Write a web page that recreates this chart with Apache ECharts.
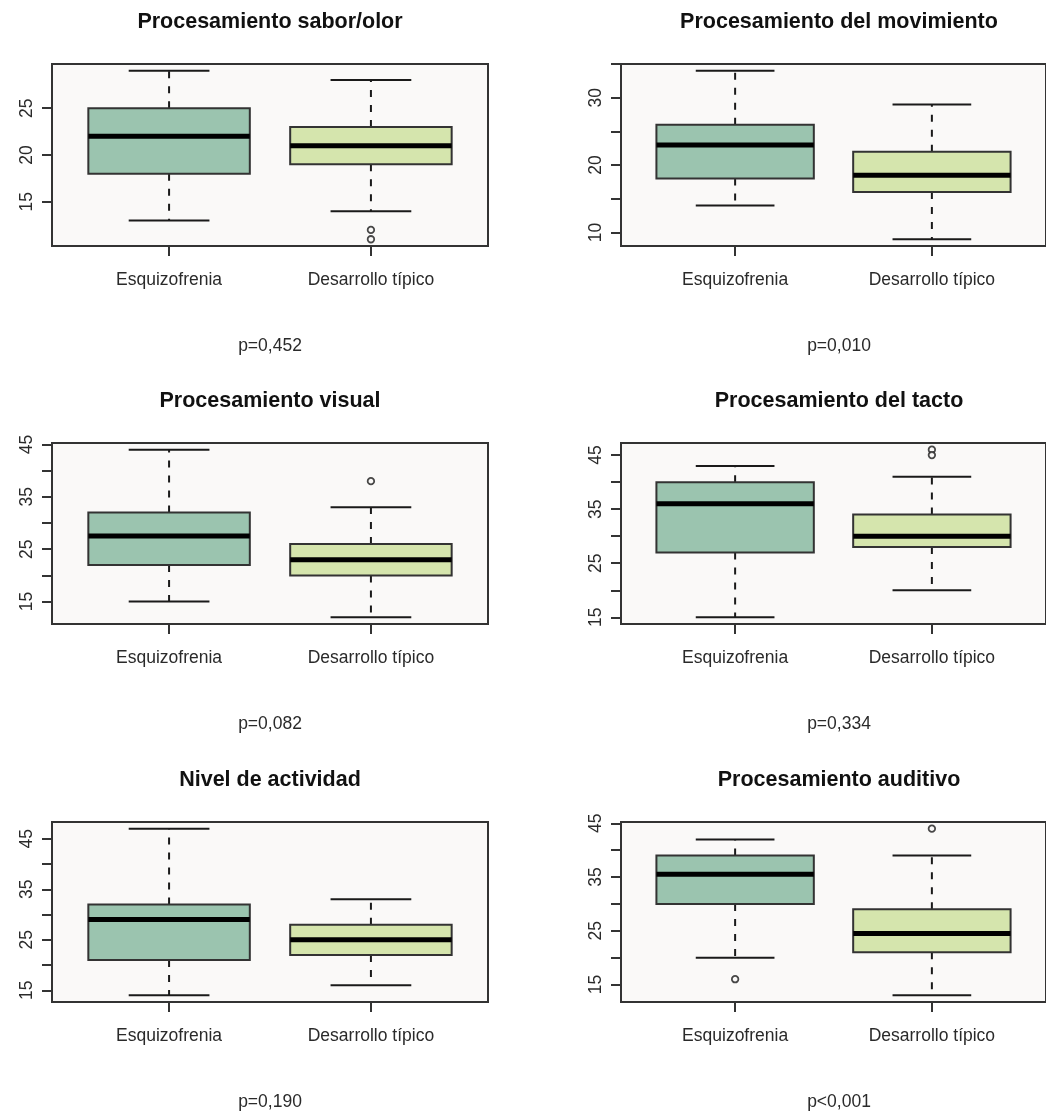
<!DOCTYPE html>
<html>
<head>
<meta charset="utf-8">
<script src="https://cdn.jsdelivr.net/npm/echarts@6/dist/echarts.min.js"></script>
<style>
html,body{margin:0;padding:0;background:#fff;}
#chart{width:1046px;height:1113px;}
</style>
</head>
<body>
<div id="chart"></div>
<script>
// ---- data ----
const groups = ['Esquizofrenia', 'Desarrollo típico'];
const titles = ['Procesamiento sabor/olor', 'Procesamiento del movimiento', 'Procesamiento visual',
                'Procesamiento del tacto', 'Nivel de actividad', 'Procesamiento auditivo'];
const pValues = ['p=0,452', 'p=0,010', 'p=0,082', 'p=0,334', 'p=0,190', 'p<0,001'];
// [lower whisker, Q1, median, Q3, upper whisker]
const esqStats = [[13,18,22,25,29],[14,18,23,26,34],[15,22,27.5,32,44],[15,27,36,40,43],[14,21,29,32,47],[20,30,35.5,39,42]];
const dtStats  = [[14,19,21,23,28],[9,16,18.5,22,29],[12,20,23,26,33],[20,28,30,34,41],[16,22,25,28,33],[13,21,24.5,29,39]];
const esqOutliers = [[],[],[],[],[],[16]];
const dtOutliers  = [[12,11],[],[38],[46,45],[],[44]];
const yTicks = [[15,20,25],[10,15,20,25,30,35],[15,20,25,30,35,40,45],[15,20,25,30,35,40,45],[15,20,25,30,35,40,45],[15,20,25,30,35,40,45]];
const yTickLabels = [[15,20,25],[10,20,30],[15,25,35,45],[15,25,35,45],[15,25,35,45],[15,25,35,45]];

// ---- layout / style ----
const FONT = "'Liberation Sans', Arial, sans-serif";
const fillColors = ['#9bc4af', '#d5e5ad'];
const lefts = [52, 621];
const tops = [64, 443, 822];
const heights = [182, 181, 180];
const W = 436;

const chart = echarts.init(document.getElementById('chart'), null, {renderer: 'canvas'});
const grid = [], xAxis = [], yAxis = [], series = [], graphic = [];

for (let i = 0; i < 6; i++) {
  const col = i % 2, row = Math.floor(i / 2);
  const left = lefts[col], top = tops[row], h = heights[row];
  const all = esqStats[i].concat(dtStats[i], esqOutliers[i], dtOutliers[i]);
  const dmin = Math.min(...all), dmax = Math.max(...all);
  const ext = (dmax - dmin) * 0.04;
  grid.push({left: left, top: top, width: W, height: h, show: true,
    backgroundColor: '#faf9f8', borderColor: '#333', borderWidth: 2, containLabel: false});
  xAxis.push({type: 'value', gridIndex: i, min: 0.42, max: 2.58, splitLine: {show: false},
    axisLine: {show: false},
    axisTick: {show: true, inside: false, length: 10, customValues: [1, 2], lineStyle: {color: '#333', width: 2}},
    axisLabel: {show: true, customValues: [1, 2], margin: 25, fontSize: 17.5, color: '#2a2a2a', fontFamily: FONT,
      formatter: v => groups[Math.round(v) - 1]}
  });
  yAxis.push({type: 'value', gridIndex: i, min: dmin - ext, max: dmax + ext, splitLine: {show: false},
    axisLine: {show: false},
    axisTick: {show: true, inside: false, length: 10, customValues: yTicks[i], lineStyle: {color: '#333', width: 2}},
    axisLabel: {show: true, customValues: yTickLabels[i], rotate: 90, margin: 16, fontSize: 17.5, color: '#2a2a2a', fontFamily: FONT,
      formatter: v => String(Math.round(v))}
  });
  const boxData = [[1].concat(esqStats[i]), [2].concat(dtStats[i])];
  series.push({
    type: 'custom', xAxisIndex: i, yAxisIndex: i, data: boxData,
    renderItem: function (params, api) {
      const x = api.value(0);
      const lw = api.value(1), q1 = api.value(2), med = api.value(3), q3 = api.value(4), uw = api.value(5);
      const halfBox = api.size([0.4, 0])[0];
      const halfCap = api.size([0.2, 0])[0];
      const c = api.coord([x, med]);
      const cx = c[0];
      const yLw = api.coord([x, lw])[1], yQ1 = api.coord([x, q1])[1], yMed = c[1],
            yQ3 = api.coord([x, q3])[1], yUw = api.coord([x, uw])[1];
      const wStyle = {stroke: '#1a1a1a', lineWidth: 2, lineDash: [7, 8]};
      const cStyle = {stroke: '#1a1a1a', lineWidth: 2};
      return {type: 'group', children: [
        {type: 'line', shape: {x1: cx, y1: yQ3, x2: cx, y2: yUw}, style: wStyle},
        {type: 'line', shape: {x1: cx, y1: yQ1, x2: cx, y2: yLw}, style: wStyle},
        {type: 'line', shape: {x1: cx - halfCap, y1: yUw, x2: cx + halfCap, y2: yUw}, style: cStyle},
        {type: 'line', shape: {x1: cx - halfCap, y1: yLw, x2: cx + halfCap, y2: yLw}, style: cStyle},
        {type: 'rect', shape: {x: cx - halfBox, y: yQ3, width: 2 * halfBox, height: yQ1 - yQ3},
          style: {fill: fillColors[params.dataIndex], stroke: '#333', lineWidth: 2}},
        {type: 'line', shape: {x1: cx - halfBox, y1: yMed, x2: cx + halfBox, y2: yMed},
          style: {stroke: '#000', lineWidth: 5}}
      ]};
    },
    z: 2, silent: true
  });
  const outData = esqOutliers[i].map(v => [1, v]).concat(dtOutliers[i].map(v => [2, v]));
  series.push({type: 'scatter', xAxisIndex: i, yAxisIndex: i, data: outData,
    symbol: 'circle', symbolSize: 6.5,
    itemStyle: {color: '#faf9f8', borderColor: '#1a1a1a', borderWidth: 1.8}, z: 3, silent: true});
  const cxPlot = left + W / 2;
  graphic.push({type: 'text', x: cxPlot, y: top - 42, style: {text: titles[i], align: 'center', verticalAlign: 'middle',
    font: 'bold 21.5px ' + FONT, fill: '#111'}});
  graphic.push({type: 'text', x: cxPlot, y: top + h + 100, style: {text: pValues[i], align: 'center', verticalAlign: 'middle',
    font: '17.5px ' + FONT, fill: '#2a2a2a'}});
}

chart.setOption({animation: false, backgroundColor: '#ffffff', grid, xAxis, yAxis, series, graphic});
</script>
</body>
</html>
